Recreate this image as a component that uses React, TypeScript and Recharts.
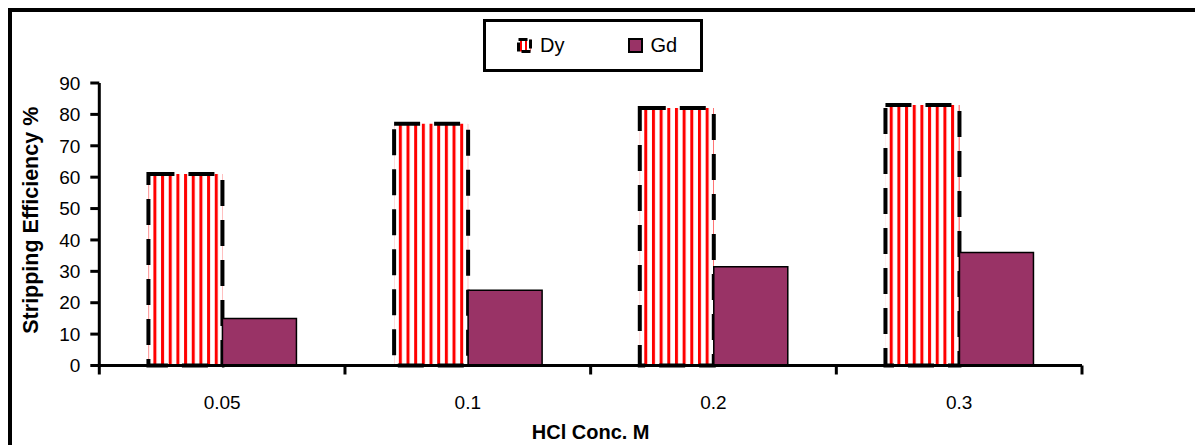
import { Bar, BarChart, Label, Legend, XAxis, YAxis } from "recharts";

// HCl concentration (M) on the x axis
const concentrations = ["0.05", "0.1", "0.2", "0.3"];
// stripping efficiency %
const dyValues = [61, 77, 82, 83];
const gdValues = [15, 24, 31.5, 36];
const yTicks = [0, 10, 20, 30, 40, 50, 60, 70, 80, 90];

const FONT = "'Liberation Sans', Arial, sans-serif";
const GD_COLOR = "#993366";

const data = concentrations.map((c, i) => ({ conc: c, Dy: dyValues[i], Gd: gdValues[i] }));

// x ticks in the Excel style: tick marks between categories, labels in the middle
const CategoryTick = (props: any) => {
  const { x, y, payload, index } = props;
  const half = payload?.offset ?? 123;
  const isLast = index === concentrations.length - 1;
  return (
    <g>
      <line x1={x - half} x2={x - half} y1={y} y2={y + 9} stroke="#000" strokeWidth={3} />
      {isLast && <line x1={x + half} x2={x + half} y1={y} y2={y + 9} stroke="#000" strokeWidth={3} />}
      <text x={x} y={y + 30} dy="0.71em" textAnchor="middle" fill="#000" fontSize={19} fontFamily={FONT}>
        {payload.value}
      </text>
    </g>
  );
};

const LegendBox = () => (
  <div
    style={{
      boxSizing: "border-box",
      width: 220,
      height: 53,
      border: "3px solid #000",
      background: "#fff",
      fontFamily: FONT,
      fontSize: 20,
      display: "flex",
      alignItems: "center",
      paddingLeft: 31,
      color: "#000",
    }}
  >
    <span style={{ display: "flex", alignItems: "center" }}>
      <svg width={15} height={15} style={{ marginRight: 8 }}>
        <defs>
          <pattern id="dyStripesSmall" patternUnits="userSpaceOnUse" width={5} height={5}>
            <rect width={5} height={5} fill="#fff" />
            <rect x={3} width={2} height={5} fill="#ff0000" />
          </pattern>
        </defs>
        <rect x={1.5} y={1.5} width={12} height={12} fill="url(#dyStripesSmall)" stroke="#000" strokeWidth={3} strokeDasharray="9 3" />
      </svg>
      Dy
    </span>
    <span style={{ display: "flex", alignItems: "center", marginLeft: 64 }}>
      <svg width={15} height={15} style={{ marginRight: 7 }}>
        <rect x={1} y={1} width={13} height={13} fill={GD_COLOR} stroke="#000" strokeWidth={2} />
      </svg>
      Gd
    </span>
  </div>
);

const App = () => {
  return (
    <div style={{ position: "absolute", left: 0, top: 0, width: 1195, height: 445, background: "#fff" }}>
      <div
        style={{
          position: "absolute",
          left: 8,
          top: 8,
          width: 1187,
          height: 437,
          boxSizing: "border-box",
          borderTop: "4px solid #000",
          borderLeft: "4px solid #000",
        }}
      />
      <BarChart
        width={1195}
        height={445}
        data={data}
        margin={{ top: 83, right: 113, left: 0, bottom: 0 }}
        barCategoryGap="20%"
        barGap={0}
        style={{ fontFamily: FONT }}
      >
        <defs>
          <pattern id="dyStripes" patternUnits="userSpaceOnUse" width={7.67} height={10}>
            <rect width={7.67} height={10} fill="#fff" />
            <rect x={0} width={3} height={10} fill="#ff0000" />
          </pattern>
        </defs>
        <XAxis
          dataKey="conc"
          height={79.5}
          axisLine={{ stroke: "#000", strokeWidth: 3 }}
          tickLine={false}
          tickSize={0}
          tickMargin={0}
          interval={0}
          tick={<CategoryTick />}
        >
          <Label
            value="HCl Conc. M"
            position="insideBottom"
            offset={6}
            style={{ fontWeight: "bold", fontSize: 20, fill: "#000" }}
          />
        </XAxis>
        <YAxis
          width={99.3}
          domain={[0, 90]}
          ticks={yTicks}
          interval={0}
          axisLine={{ stroke: "#000", strokeWidth: 3 }}
          tickLine={{ stroke: "#000", strokeWidth: 3 }}
          tickSize={9}
          tickMargin={10}
          tick={{ fill: "#000", fontSize: 19 }}
        >
          <Label
            content={({ viewBox }: any) => {
              const cx = 31;
              const cy = viewBox.y + viewBox.height / 2 - 4;
              return (
                <text
                  x={cx}
                  y={cy}
                  transform={`rotate(-90 ${cx} ${cy})`}
                  textAnchor="middle"
                  dominantBaseline="central"
                  style={{ fontWeight: "bold", fontSize: 21.5, fill: "#000", fontFamily: FONT }}
                >
                  Stripping Efficiency %
                </text>
              );
            }}
          />
        </YAxis>
        <Legend
          layout="horizontal"
          verticalAlign="middle"
          align="center"
          wrapperStyle={{ left: 483, top: 19, width: 220, height: 53 }}
          content={() => <LegendBox />}
        />
        <Bar
          dataKey="Dy"
          name="Dy"
          fill="url(#dyStripes)"
          stroke="#000"
          strokeWidth={4}
          strokeDasharray="26 14"
          isAnimationActive={false}
        />
        <Bar
          dataKey="Gd"
          name="Gd"
          fill={GD_COLOR}
          stroke="#000"
          strokeWidth={1.5}
          isAnimationActive={false}
        />
      </BarChart>
    </div>
  );
};

export default App;
